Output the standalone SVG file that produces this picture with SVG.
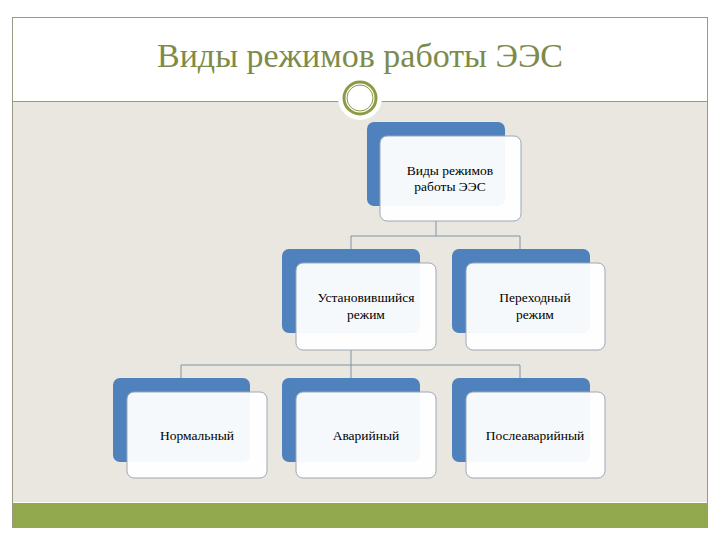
<svg xmlns="http://www.w3.org/2000/svg" width="720" height="540" viewBox="0 0 720 540">
<style>
.b{fill:#4f81bd}
.w{fill:#fff;fill-opacity:0.95;stroke:#9aa8b8;stroke-width:1}
.t{font-family:'Liberation Serif','Times New Roman',serif;font-size:13.5px;fill:#000;text-anchor:middle}
.c{fill:none;stroke:#7f93a8;stroke-width:1}
</style>
<rect width="720" height="540" fill="#fff"/>
<rect x="12" y="102" width="696" height="400" fill="#e9e7df"/>
<rect x="12" y="503" width="696" height="25" fill="#92aa4d"/>
<rect x="12.5" y="17.5" width="695" height="510" fill="none" stroke="#9a9a80"/>
<line x1="12" y1="101.5" x2="708" y2="101.5" stroke="#9a9a80"/>
<text x="360" y="67" font-family="'Liberation Serif','Times New Roman',serif" font-size="34" fill="#7d8b4a" text-anchor="middle">Виды режимов работы ЭЭС</text>
<circle cx="360" cy="98" r="22" fill="#fff"/>
<circle cx="360" cy="98" r="16" fill="#fff" stroke="#8c9a45" stroke-width="3"/>
<circle cx="360" cy="98" r="13" fill="none" stroke="#8c9a45" stroke-width="1"/>
<g id="connectors">
<path class="c" d="M436 221V236M351 236H520M351 236V249M520 236V249"/>
<path class="c" d="M351 350V365M181 365H520M181 365V378M351 365V378M520 365V378"/>
</g>
<g id="n0"><rect class="b" x="367" y="122" width="138" height="84" rx="7"/><rect class="w" x="380" y="136" width="141" height="85" rx="7"/><text class="t" x="450" y="175">Виды режимов</text><text class="t" x="450" y="191">работы ЭЭС</text></g>
<g id="n1"><rect class="b" x="282" y="249" width="138" height="84" rx="7"/><rect class="w" x="296" y="263" width="140" height="87" rx="7"/><text class="t" x="366" y="302">Установившийся</text><text class="t" x="366" y="319">режим</text></g>
<g id="n2"><rect class="b" x="452" y="249" width="138" height="84" rx="7"/><rect class="w" x="466" y="263" width="139" height="87" rx="7"/><text class="t" x="535" y="302">Переходный</text><text class="t" x="535" y="319">режим</text></g>
<g id="n3"><rect class="b" x="113" y="378" width="137" height="84" rx="7"/><rect class="w" x="127" y="392" width="140" height="86" rx="7"/><text class="t" x="197" y="440">Нормальный</text></g>
<g id="n4"><rect class="b" x="282" y="378" width="138" height="84" rx="7"/><rect class="w" x="296" y="392" width="140" height="86" rx="7"/><text class="t" x="366" y="440">Аварийный</text></g>
<g id="n5"><rect class="b" x="452" y="378" width="138" height="84" rx="7"/><rect class="w" x="466" y="392" width="139" height="86" rx="7"/><text class="t" x="535" y="440">Послеаварийный</text></g>
</svg>
